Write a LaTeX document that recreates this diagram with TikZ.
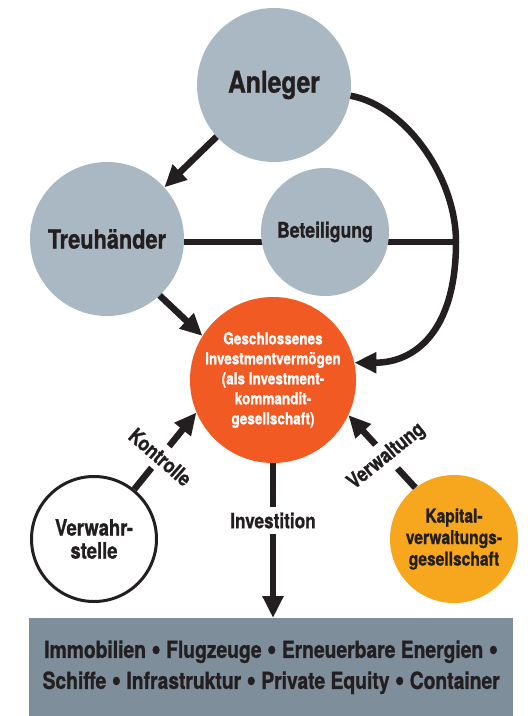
\documentclass[tikz,border=0pt]{standalone}
\usepackage{fontspec}
\setmainfont{TeX Gyre Heros}[FakeStretch=0.82,BoldFeatures={FakeBold=1}]
\usetikzlibrary{arrows.meta}
\usetikzlibrary{backgrounds}

\definecolor{grau}{HTML}{AAB8C3}
\definecolor{rotorange}{HTML}{F15A22}
\definecolor{gelborange}{HTML}{F6A71E}
\definecolor{balken}{HTML}{7F8E9B}
\definecolor{tinte}{HTML}{231F20}
\newcommand\punkt{{\fontsize{33}{31}\selectfont\raisebox{-2pt}{•}}}

\begin{document}
\begin{tikzpicture}[x=1pt,y=-1pt,
  kreis/.style={circle,inner sep=0pt,align=center,text=tinte},
  pfeil/.style={draw=tinte,line width=6.5pt,-{Triangle[length=22pt,width=20pt]}},
  marke/.style={fill=white,inner xsep=2pt,inner ysep=6pt,text=tinte,
    font=\bfseries\fontsize{21}{21}\selectfont}]
\useasboundingbox (0,0) rectangle (528,716);
% Kreise
\node [kreis,fill=grau,minimum size=154pt,font=\bfseries\fontsize{30}{30}\selectfont] (anleger) at (274,85) {Anleger};
\node [kreis,fill=grau,minimum size=154pt,font=\bfseries\fontsize{26.5}{26.5}\selectfont] (treu) at (107,239) {Treuhänder};
\node [kreis,fill=grau,minimum size=128pt,font=\bfseries\fontsize{21.5}{21.5}\selectfont] (beteil) at (325,232) {Beteiligung};
\node [kreis,fill=rotorange,text=white,minimum size=166pt,font=\bfseries\fontsize{16.5}{20}\selectfont] (fonds) at (273,380)
  {Geschlossenes\\Investmentvermögen\\(als Investment-\\kommandit-\\gesellschaft)};
\node [kreis,draw=tinte,line width=3pt,fill=white,minimum size=125pt,font=\bfseries\fontsize{22.5}{23}\selectfont] (verwahr) at (94,539)
  {Verwahr-\\stelle};
\node [kreis,fill=gelborange,minimum size=128pt,font=\bfseries\fontsize{19}{21.5}\selectfont] (kvg) at (454,539)
  {Kapital-\\verwaltungs-\\gesellschaft};
\node [fill=balken,anchor=north west,inner sep=0pt,minimum width=484pt,minimum height=98pt,align=center,text=tinte,
  font=\bfseries\fontsize{23.5}{31}\selectfont] (anlagen) at (29,618)
  {Immobilien \punkt{} Flugzeuge \punkt{} Erneuerbare Energien \punkt\\Schiffe \punkt{} Infrastruktur \punkt{} Private Equity \punkt{} Container};
\coordinate (knoten) at (456,242);
% Verbindungen
\begin{scope}[on background layer]
\draw [draw=tinte,line width=6.5pt] (treu.center |- knoten) -- (knoten);
\end{scope}
\draw [pfeil] (anleger.222) -- (treu.42);
\draw [pfeil] (treu.-47) -- (fonds.148);
\draw [pfeil] (anleger.-8) .. controls +(55,10) and +(0,-65) .. (knoten)
  .. controls +(0,90) and +(60,0) .. (fonds.12);
\draw [pfeil] (fonds.south) -- node [marke,pos=0.37] {Investition} (fonds.south |- anlagen.north);
\draw [pfeil] (verwahr.51) -- node [marke,pos=0.42,rotate=-41] {Kontrolle} (fonds.203);
\draw [pfeil] (kvg.127) -- node [marke,pos=0.43,rotate=39] {Verwaltung} (fonds.335);
\end{tikzpicture}
\end{document}
